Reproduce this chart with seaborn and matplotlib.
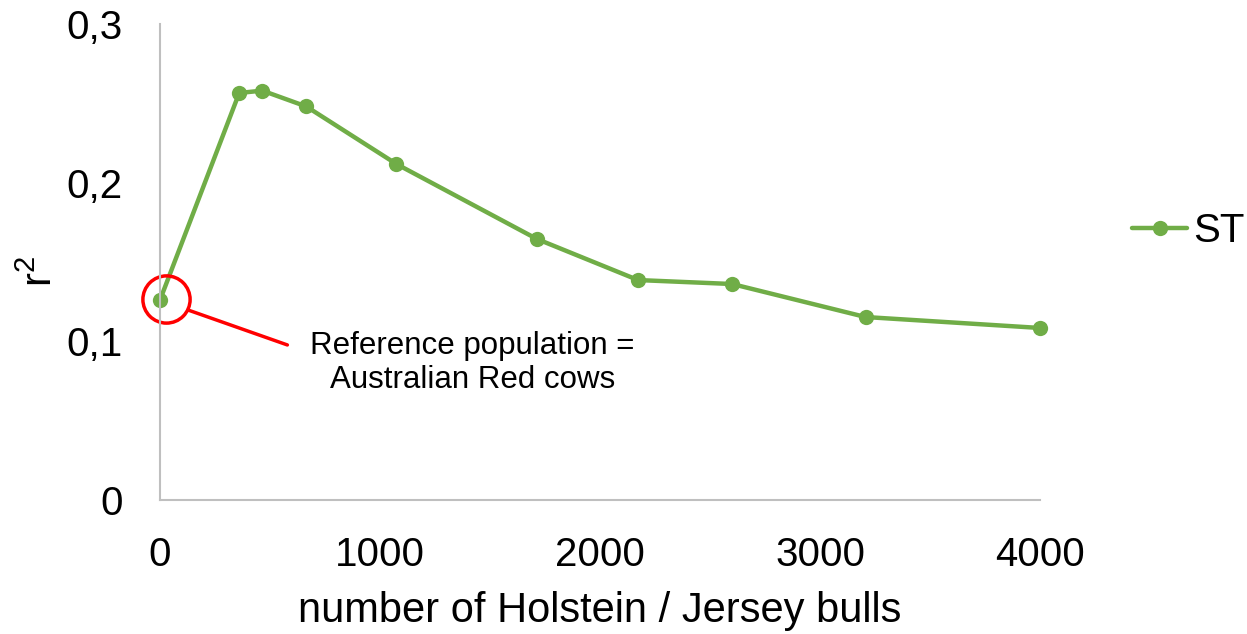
import matplotlib
matplotlib.use('Agg')
import matplotlib.pyplot as plt
import matplotlib.ticker as mticker
import seaborn as sns
import pandas as pd

# data
bulls = [0, 360, 465, 665, 1075, 1713, 2173, 2601, 3207, 4000]
r2_st = [0.126, 0.2565, 0.258, 0.248, 0.2117, 0.1645, 0.1386, 0.1361, 0.1153, 0.1084]
series_name = 'ST'
note = 'Reference population =\nAustralian Red cows'

df = pd.DataFrame({'bulls': bulls, 'r2': r2_st, 'series': series_name})

sns.set_style('white')
plt.rcParams['font.family'] = ['Liberation Sans', 'DejaVu Sans']
plt.rcParams['text.color'] = 'black'
plt.rcParams['axes.labelcolor'] = 'black'
plt.rcParams['xtick.color'] = 'black'
plt.rcParams['ytick.color'] = 'black'

green = '#70AD47'
grey = '#BFBFBF'

fig = plt.figure(figsize=(12.47, 6.34), dpi=100)
ax = fig.add_axes([0.1283, 0.2114, 0.7057, 0.7508])

sns.lineplot(data=df, x='bulls', y='r2', hue='series', palette=[green],
             marker='o', markersize=11, markeredgewidth=0, linewidth=3.2,
             ax=ax, legend=True, clip_on=False)

ax.set_xlim(0, 4000)
ax.set_ylim(0, 0.3)
ax.set_xticks([0, 1000, 2000, 3000, 4000])
ax.set_yticks([0, 0.1, 0.2, 0.3])
ax.yaxis.set_major_formatter(mticker.FuncFormatter(
    lambda v, p: '0' if v == 0 else f'{v:.1f}'.replace('.', ',')))
ax.tick_params(axis='both', length=0, labelsize=29)
ax.tick_params(axis='x', pad=26)
ax.tick_params(axis='y', pad=27)

for side in ['top', 'right']:
    ax.spines[side].set_visible(False)
for side in ['left', 'bottom']:
    ax.spines[side].set_color(grey)
    ax.spines[side].set_linewidth(1.5)

ax.set_xlabel('number of Holstein / Jersey bulls', fontsize=30, labelpad=12)
ax.set_ylabel('$\\mathregular{r^2}$', fontsize=30)
ax.yaxis.set_label_coords(-0.112, 0.479)

# callout circle and line
ax.plot([27], [0.1265], marker='o', markersize=34, markerfacecolor='none',
        markeredgecolor='red', markeredgewidth=2.5, clip_on=False)
ax.plot([128, 579], [0.1197, 0.0977], color='red', linewidth=2.5)
ax.text(1421, 0.0863, note, fontsize=22.5, ha='center', va='center',
        multialignment='center', linespacing=1.2)

handles, labels = ax.get_legend_handles_labels()
ax.get_legend().remove()
fig.legend(handles, labels, loc='center left', bbox_to_anchor=(0.9078, 0.636),
           frameon=False, fontsize=29, handlelength=1.37, handletextpad=0.15,
           borderpad=0, borderaxespad=0)

plt.savefig('out.png', dpi=100)
plt.close()
